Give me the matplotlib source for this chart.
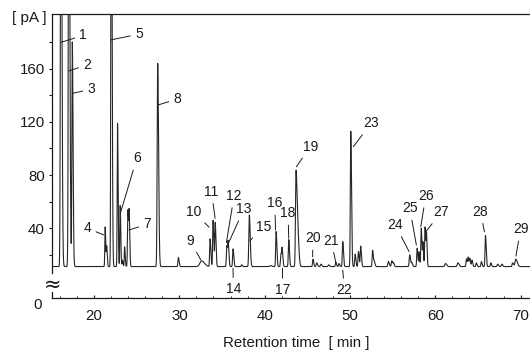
import numpy as np
import matplotlib
matplotlib.use("Agg")
import matplotlib.pyplot as plt

plt.rcParams['font.family'] = ['Liberation Sans', 'DejaVu Sans']

# ---- data: peaks (retention time [min], apex [pA], width sigma [min])
baseline = 11.2
peak_times = [16.12, 17.05, 17.45, 21.30, 21.48, 22.02, 22.75, 23.06, 23.32, 23.58,
              23.97, 24.12, 27.46, 29.88, 32.60, 33.60, 33.95, 34.20, 35.56, 35.72,
              36.29, 37.30, 38.20, 40.70, 41.34, 41.90, 42.05, 42.82, 43.67, 43.85,
              45.66, 46.10, 46.60, 47.50, 48.33, 48.70, 49.15, 50.09, 50.60, 50.99,
              51.25, 52.65, 52.85, 54.50, 54.90, 55.10, 57.00, 57.25, 57.87, 58.10,
              58.35, 58.55, 58.80, 58.97, 61.20, 62.65, 63.65, 63.85, 64.05, 64.30,
              64.80, 65.40, 65.88, 66.50, 67.30, 67.80, 69.06, 69.44]
peak_apex = [400, 400, 180, 41, 26, 400, 119, 57, 16, 26,
             54, 45, 164, 18, 15.5, 32, 46, 44, 27, 28,
             24.5, 12.5, 50, 12, 37.5, 21, 23.5, 31.5, 81, 40,
             16.7, 14, 13, 12.5, 14.5, 13.5, 30, 113, 20.5, 22.5,
             26.5, 23.5, 15, 15, 15.5, 13.5, 20, 14, 25, 22,
             40, 28, 41, 33, 13.5, 14, 17, 18, 17, 16,
             14, 15, 34.5, 14, 13, 13, 14, 16.7]
peak_sigma = [0.06, 0.06, 0.05, 0.04, 0.04, 0.05, 0.04, 0.04, 0.04, 0.04,
              0.05, 0.04, 0.06, 0.05, 0.20, 0.05, 0.05, 0.05, 0.05, 0.05,
              0.05, 0.05, 0.06, 0.08, 0.05, 0.05, 0.05, 0.05, 0.06, 0.08,
              0.05, 0.06, 0.06, 0.06, 0.05, 0.05, 0.05, 0.05, 0.05, 0.05,
              0.05, 0.05, 0.05, 0.06, 0.06, 0.05, 0.06, 0.05, 0.05, 0.04,
              0.05, 0.04, 0.05, 0.04, 0.08, 0.08, 0.05, 0.05, 0.05, 0.05,
              0.05, 0.05, 0.05, 0.05, 0.06, 0.06, 0.06, 0.10]

# ---- peak labels: number, label position (t, pA), leader end (t, pA)
label_ids = [str(i) for i in range(1, 30)]
label_text_t = [18.74, 19.18, 19.70, 19.23, 25.25, 25.01, 26.23, 29.76, 31.24, 31.63,
                33.76, 36.41, 37.57, 36.33, 39.91, 41.19, 42.09, 42.74, 45.35, 45.66,
                47.80, 49.35, 52.47, 55.33, 57.01, 58.88, 60.70, 65.29, 70.0]
label_text_v = [185.0, 162.8, 144.5, 40.0, 185.9, 92.6, 43.0, 137.2, 30.7, 52.5,
                67.5, 64.3, 54.3, -5.9, 41.2, 58.8, -6.4, 51.3, 101.4, 32.5,
                30.7, -6.4, 118.9, 42.5, 55.0, 64.3, 52.0, 52.5, 39.2]
label_tip_t = [16.12, 17.05, 17.48, 21.13, 21.95, 23.08, 24.08, 27.51, 32.52, 33.49,
               34.19, 35.51, 35.74, 36.29, 38.27, 41.27, 42.09, 42.82, 43.72, 45.62,
               48.34, 49.15, 50.40, 56.93, 57.78, 58.30, 58.95, 65.76, 69.45]
label_tip_v = [179.8, 158.3, 141.5, 35.0, 181.6, 51.3, 38.7, 132.7, 16.2, 40.8,
               47.5, 29.2, 28.7, 9.9, 30.7, 38.7, 9.9, 32.5, 86.3, 18.6,
               14.1, 8.6, 101.4, 22.4, 27.4, 41.2, 38.0, 37.4, 19.2]

x_major = [20, 30, 40, 50, 60, 70]

# ---- build trace from the peak list
t = np.arange(15.0, 71.2, 0.004)
signal = np.full_like(t, baseline)
for t0, h, s in zip(peak_times, peak_apex, peak_sigma):
    sig = np.where(t < t0, s, s * 1.7)
    signal += (h - baseline) * np.exp(-0.5 * ((t - t0) / sig) ** 2)

fig = plt.figure(figsize=(5.30, 3.51), dpi=100)
W, H = 530.0, 351.0
left = 52 / W
ax = fig.add_axes([left, 1 - 272.7 / H, 1 - left, (272.7 - 14) / H])
axb = fig.add_axes([left, 1 - 297.7 / H, 1 - left, 6.0 / H])

xlim = (15.07, 71.1)
ink = '#1a1a1a'
ax.plot(t, signal, color='#262626', lw=0.8)
ax.set_xlim(*xlim)
ax.set_ylim(6.6, 201.1)
for sp in ['right', 'bottom']:
    ax.spines[sp].set_visible(False)
for sp in ['left', 'top']:
    ax.spines[sp].set_linewidth(0.9)
    ax.spines[sp].set_color(ink)
ax.set_xticks([])
ax.set_yticks([40, 80, 120, 160])
ax.set_yticks([20, 60, 100, 140, 180], minor=True)
ax.tick_params(axis='y', which='both', direction='out', length=2.2, width=0.8,
               pad=3, labelsize=10.8, colors=ink)

# lower (broken) axis holding the zero and time ticks
axb.set_xlim(*xlim)
axb.set_ylim(0, 1)
for sp in ['right', 'top']:
    axb.spines[sp].set_visible(False)
for sp in ['left', 'bottom']:
    axb.spines[sp].set_linewidth(0.9)
    axb.spines[sp].set_color(ink)
axb.set_yticks([0])
axb.set_xticks(x_major)
axb.set_xticks(np.arange(16, 71, 2), minor=True)
axb.tick_params(axis='y', direction='out', length=0, pad=7, labelsize=10.8, colors=ink)
for lbl in axb.get_yticklabels():
    lbl.set_va('top')
axb.tick_params(axis='x', which='major', direction='in', length=2.5, width=0.8,
                pad=8, labelsize=10.8, colors=ink)
axb.tick_params(axis='x', which='minor', direction='in', length=1.8, width=0.6)
axb.patch.set_alpha(0)

# labels
for lab, tx, ty, px, py in zip(label_ids, label_text_t, label_text_v, label_tip_t, label_tip_v):
    ax.annotate(lab, xy=(px, py), xytext=(tx, ty), textcoords='data',
                ha='center', va='center', fontsize=10, color=ink,
                annotation_clip=False,
                arrowprops=dict(arrowstyle='-', color=ink, lw=0.7,
                                shrinkA=1.5, shrinkB=0))

fig.text(29.2 / W, 1 - 18 / H, '[ pA ]', ha='center', va='center', fontsize=11, color=ink)
fig.text(52.5 / W, 1 - 285 / H, '≈', ha='center', va='center', fontsize=15,
         color=ink, family=['DejaVu Sans'])
fig.text(295.8 / W, 1 - 343.3 / H, 'Retention time  [ min ]', ha='center', va='center',
         fontsize=10.8, color=ink)

fig.savefig('out.png', dpi=100)
